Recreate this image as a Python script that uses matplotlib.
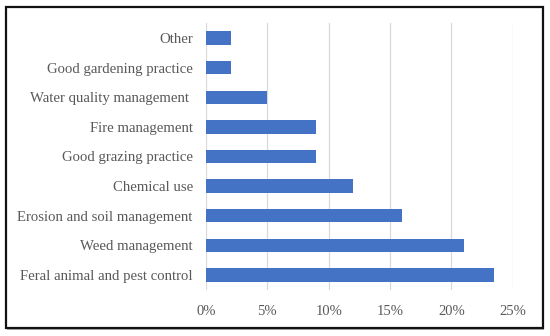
import matplotlib
matplotlib.use("Agg")
import matplotlib.pyplot as plt
from matplotlib.patches import Rectangle

categories = ["Feral animal and pest control", "Weed management",
              "Erosion and soil management", "Chemical use",
              "Good grazing practice", "Fire management",
              "Water quality management ", "Good gardening practice", "Other"]
values = [23.5, 21, 16, 12, 9, 9, 5, 2, 2]
ticks = [0, 5, 10, 15, 20, 25]
tick_labels = ["0%", "5%", "10%", "15%", "20%", "25%"]

plt.rcParams['font.family'] = ['Liberation Serif', 'DejaVu Serif']
grey = "#595959"

fig = plt.figure(figsize=(5.5, 3.36), dpi=100)
ax = fig.add_axes([0.3745, 0.1375, 0.558, 0.7935])

ax.barh(range(len(categories)), values, height=0.45, color="#4472C4", zorder=3)
ax.set_xlim(0, 25)
ax.set_ylim(-0.5, len(categories) - 0.5)
ax.set_xticks(ticks)
ax.set_xticklabels(tick_labels, color=grey, fontsize=10.5)
ax.set_yticks(range(len(categories)))
ax.set_yticklabels(categories, color=grey, fontsize=10.6)
ax.tick_params(length=0, pad=11, axis='x')
ax.tick_params(length=0, pad=9.5, axis='y')
ax.grid(axis='x', color="#D9D9D9", linewidth=0.9, zorder=0)
for s in ax.spines.values():
    s.set_visible(False)

# shadow and black frame around the whole chart
fig.patches.append(Rectangle((0.0135, 0.019), 0.976, 0.955, transform=fig.transFigure,
                             facecolor="#b0b0b0", edgecolor="none", zorder=-2))
fig.patches.append(Rectangle((0.011, 0.024), 0.976, 0.955, transform=fig.transFigure,
                             facecolor="white", edgecolor="#111111", linewidth=1.6, zorder=-1))

fig.savefig("out.png", dpi=100)
